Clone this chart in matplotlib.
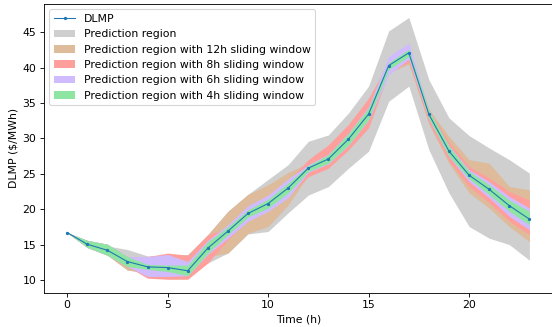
import matplotlib

matplotlib.use("Agg")
import numpy as np
from matplotlib import pyplot as plt

hours = np.arange(24)

dlmp = [16.7, 15.05, 14.2, 12.6, 11.85, 11.75, 11.3, 14.5, 16.9, 19.4, 20.8, 23.0,
        25.8, 27.1, 29.9, 33.45, 40.3, 42.1, 33.4, 28.2, 24.8, 22.8, 20.5, 18.6]

# prediction region (full)
region_hi = [16.7, 15.3, 14.8, 14.3, 13.4, 13.5, 13.6, 16.4, 19.7, 22.1, 24.2, 26.3,
             29.6, 30.5, 33.6, 37.4, 45.2, 47.1, 38.3, 32.9, 30.4, 28.65, 27.0, 25.1]
region_lo = [16.7, 14.6, 13.5, 11.4, 11.0, 11.0, 10.6, 12.4, 13.8, 16.5, 16.85, 19.5,
             22.0, 23.2, 25.8, 28.2, 35.25, 37.4, 28.4, 22.3, 17.55, 15.9, 15.0, 12.8]

# 12h sliding window
w12_hi = [16.7, 15.6, 15.05, 13.3, 12.5, 12.5, 13.5, 16.4, 19.7, 22.1, 23.45, 25.2,
          26.5, 28.0, 30.8, 34.5, 40.8, 42.6, 34.1, 30.3, 27.0, 26.5, 23.2, 22.75]
w12_lo = [16.7, 14.6, 13.5, 11.4, 11.0, 11.0, 10.6, 13.3, 13.8, 16.6, 17.55, 20.6,
          24.8, 26.0, 28.8, 32.3, 39.3, 40.5, 32.0, 26.5, 22.3, 20.15, 17.55, 15.4]

# 8h sliding window
w8_hi = [16.7, 15.6, 15.05, 13.3, 13.3, 13.8, 13.5, 16.4, 17.3, 20.2, 21.7, 24.0,
         27.0, 29.1, 32.0, 35.7, 40.8, 42.8, 34.1, 29.5, 26.05, 24.4, 22.5, 21.3]
w8_lo = [16.7, 14.6, 13.5, 11.9, 10.25, 10.1, 10.1, 12.4, 15.7, 18.5, 19.9, 21.8,
         24.6, 25.8, 28.4, 31.5, 39.3, 40.8, 32.2, 26.8, 23.2, 20.9, 18.3, 16.4]

# 6h sliding window
w6_hi = [16.7, 15.6, 15.05, 13.3, 13.3, 13.6, 12.6, 15.6, 17.8, 20.5, 22.0, 24.3,
         26.3, 27.8, 30.8, 34.5, 41.6, 43.5, 34.0, 29.0, 25.6, 23.9, 21.8, 20.15]
w6_lo = [16.7, 14.6, 13.5, 11.9, 10.5, 10.5, 10.6, 13.6, 15.9, 18.3, 19.7, 21.6,
         25.2, 26.4, 29.0, 32.6, 39.0, 41.2, 32.7, 27.4, 23.9, 21.6, 19.0, 17.1]

# 4h sliding window
w4_hi = [16.7, 15.6, 15.05, 13.3, 12.2, 12.1, 12.1, 15.4, 17.5, 19.9, 21.4, 23.7,
         26.15, 27.7, 30.7, 34.3, 40.7, 42.6, 34.0, 28.9, 25.35, 23.45, 21.3, 19.7]
w4_lo = [16.7, 14.6, 13.5, 11.9, 11.5, 11.2, 10.6, 13.8, 16.4, 18.9, 20.15, 22.3,
         25.35, 26.5, 29.1, 32.7, 39.75, 41.6, 32.8, 27.5, 24.3, 22.05, 19.7, 17.8]

bands = [
    ("Prediction region", region_lo, region_hi, "#cfcfcf"),
    ("Prediction region with 12h sliding window", w12_lo, w12_hi, "#debb9b"),
    ("Prediction region with 8h sliding window", w8_lo, w8_hi, "#ff9f9b"),
    ("Prediction region with 6h sliding window", w6_lo, w6_hi, "#d0bbff"),
    ("Prediction region with 4h sliding window", w4_lo, w4_hi, "#8de5a1"),
]

dpi = 78
fig = plt.figure(figsize=(552 / dpi, 327 / dpi), dpi=dpi)
ax = fig.add_axes([44 / 552, 1 - 292.7 / 327, 508.5 / 552, (292.7 - 4) / 327])

ax.plot(hours, dlmp, color="#1f77b4", marker=".", markersize=4, linewidth=1, label="DLMP", zorder=5)
for label, lo, hi, color in bands:
    ax.fill_between(hours, lo, hi, color=color, linewidth=0, label=label)

ax.set_ylim(8.2, 49)
ax.set_xlabel("Time (h)")
ax.set_ylabel("DLMP (\\$/MWh)")
ax.legend(loc="upper left")

fig.savefig("out.png", dpi=dpi)
